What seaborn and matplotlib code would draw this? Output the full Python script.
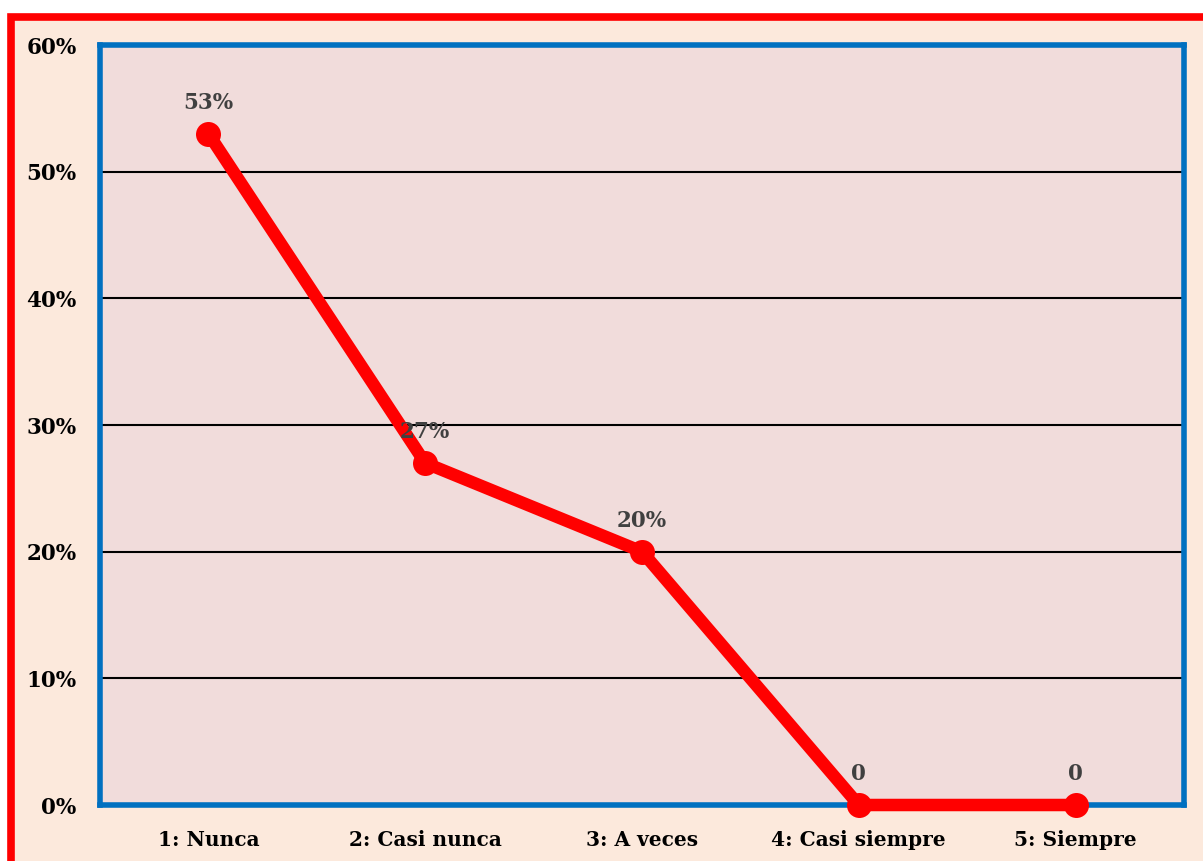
import pandas as pd
import matplotlib.pyplot as plt
import seaborn as sns
from matplotlib.patches import Rectangle

# Datos del gráfico
categorias = ['1: Nunca', '2: Casi nunca', '3: A veces', '4: Casi siempre', '5: Siempre']
valores = [0.53, 0.27, 0.20, 0.0, 0.0]
etiquetas = ['53%', '27%', '20%', '0', '0']
ticks_y = [0, 0.1, 0.2, 0.3, 0.4, 0.5, 0.6]
ticks_y_txt = ['0%', '10%', '20%', '30%', '40%', '50%', '60%']

df = pd.DataFrame({'categoria': categorias, 'valor': valores, 'pos': range(len(categorias))})

sns.set_style('white')
plt.rcParams['font.family'] = ['DejaVu Serif']

W, H = 1203, 861
fig = plt.figure(figsize=(W / 100, H / 100), dpi=100, facecolor='white')

# Marco exterior rojo con fondo melocotón
marco = Rectangle((10.5 / W, -0.2), 2, 1 - 16.5 / H + 0.2, transform=fig.transFigure,
                  facecolor='#FCE9DC', edgecolor='#FF0000', linewidth=5.5, zorder=-1)
fig.patches.append(marco)

ax = fig.add_axes([100 / W, 1 - 805 / H, 1084 / W, 760 / H])
ax.set_zorder(2)
ax.set_facecolor('#F1DCDB')

# Malla horizontal
for t in ticks_y[1:-1]:
    ax.axhline(t, color='black', lw=1.5, zorder=1)

sns.lineplot(data=df, x='pos', y='valor', ax=ax, color='#FF0000', linewidth=9,
             marker='o', markersize=18, markeredgewidth=0, zorder=3, clip_on=False)

for i, (v, txt) in enumerate(zip(valores, etiquetas)):
    ax.annotate(txt, xy=(i, v), xytext=(0, 22), textcoords='offset points',
                ha='center', va='center', fontsize=15.5, fontweight='bold', color='#404040')

ax.set_xlim(-0.5, len(categorias) - 0.5)
ax.set_ylim(0, 0.6)
ax.set_xticks(range(len(categorias)))
ax.set_xticklabels(categorias, fontsize=14.5, fontweight='bold', color='black')
ax.set_yticks(ticks_y)
ax.set_yticklabels(ticks_y_txt, fontsize=15.5, fontweight='bold', color='black')
ax.tick_params(axis='x', length=0, pad=18)
ax.tick_params(axis='y', length=0, pad=17)
ax.set_xlabel('')
ax.set_ylabel('')

for s in ax.spines.values():
    s.set_visible(True)
    s.set_color('#0070C0')
    s.set_linewidth(4)

fig.savefig('out.png', dpi=100)
